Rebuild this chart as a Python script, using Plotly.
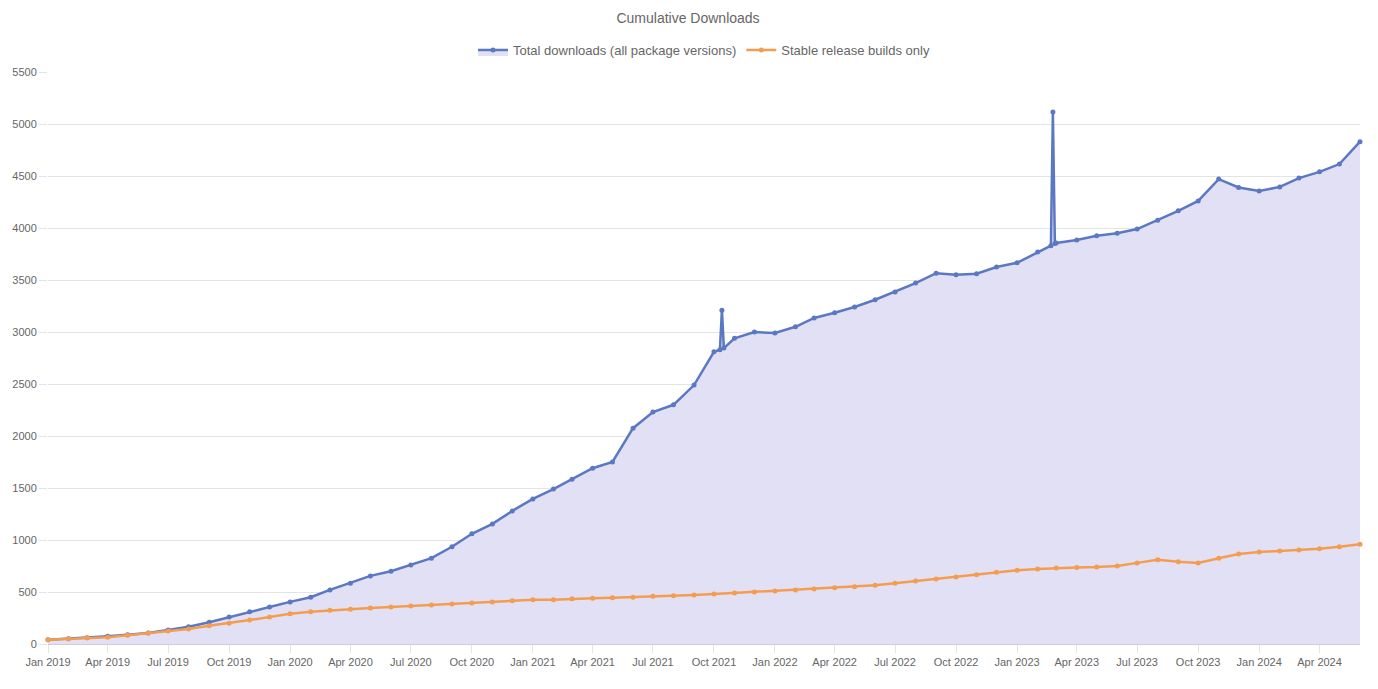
import plotly.graph_objects as go

# ---- data ----
months = [
    "2019-01-01", "2019-02-01", "2019-03-01", "2019-04-01", "2019-05-01", "2019-06-01",
    "2019-07-01", "2019-08-01", "2019-09-01", "2019-10-01", "2019-11-01", "2019-12-01",
    "2020-01-01", "2020-02-01", "2020-03-01", "2020-04-01", "2020-05-01", "2020-06-01",
    "2020-07-01", "2020-08-01", "2020-09-01", "2020-10-01", "2020-11-01", "2020-12-01",
    "2021-01-01", "2021-02-01", "2021-03-01", "2021-04-01", "2021-05-01", "2021-06-01",
    "2021-07-01", "2021-08-01", "2021-09-01", "2021-10-01", "2021-11-01", "2021-12-01",
    "2022-01-01", "2022-02-01", "2022-03-01", "2022-04-01", "2022-05-01", "2022-06-01",
    "2022-07-01", "2022-08-01", "2022-09-01", "2022-10-01", "2022-11-01", "2022-12-01",
    "2023-01-01", "2023-02-01", "2023-03-01", "2023-04-01", "2023-05-01", "2023-06-01",
    "2023-07-01", "2023-08-01", "2023-09-01", "2023-10-01", "2023-11-01", "2023-12-01",
    "2024-01-01", "2024-02-01", "2024-03-01", "2024-04-01", "2024-05-01", "2024-06-01",
]

total_downloads = [
    40, 50, 60, 75, 90, 105, 135, 165, 210, 260, 310, 355,
    405, 450, 520, 585, 655, 700, 760, 825, 935, 1060, 1155, 1280,
    1395, 1490, 1585, 1690, 1750, 2075, 2230, 2300, 2490, 2810, 2940, 3000,
    2990, 3050, 3135, 3185, 3240, 3310, 3385, 3470, 3565, 3550, 3560, 3625,
    3665, 3770, 3855, 3885, 3925, 3950, 3990, 4075, 4165, 4260, 4470, 4390,
    4355, 4395, 4480, 4540, 4615, 4830,
]

# short-lived outliers in the blue series (single days, with the days around them)
spike_dates = ["2021-10-10", "2021-10-13", "2021-10-16",
               "2023-02-21", "2023-02-24", "2023-02-27"]
spike_values = [2830, 3210, 2845,
                3830, 5115, 3850]

stable_downloads = [
    40, 50, 60, 65, 85, 105, 125, 145, 175, 200, 230, 260,
    290, 310, 325, 335, 345, 355, 365, 375, 385, 395, 405, 415,
    425, 425, 435, 440, 445, 450, 460, 465, 470, 480, 490, 500,
    510, 520, 530, 540, 550, 565, 585, 605, 625, 645, 665, 690,
    710, 720, 730, 735, 740, 750, 780, 810, 790, 780, 825, 865,
    885, 895, 905, 915, 935, 960,
]

title_text = "Cumulative Downloads"
series_names = ["Total downloads (all package versions)", "Stable release builds only"]

# merge spikes into the blue series (sorted by date)
blue_pts = sorted(list(zip(months, total_downloads)) + list(zip(spike_dates, spike_values)))
blue_x = [p[0] for p in blue_pts]
blue_y = [p[1] for p in blue_pts]

BLUE = "#5b78c2"
ORANGE = "#f59d4f"
GRID = "#e4e4e4"
TEXT = "#666666"

fig = go.Figure()
fig.add_trace(go.Scatter(
    x=blue_x, y=blue_y, name=series_names[0],
    mode="lines+markers",
    line=dict(color=BLUE, width=2.5),
    marker=dict(color=BLUE, size=5),
    fill="tozeroy", fillcolor="#e2e0f5",
    cliponaxis=False,
))
fig.add_trace(go.Scatter(
    x=months, y=stable_downloads, name=series_names[1],
    mode="lines+markers",
    line=dict(color=ORANGE, width=2.5),
    marker=dict(color=ORANGE, size=5),
    cliponaxis=False,
))

fig.update_layout(
    width=1378, height=689,
    paper_bgcolor="white", plot_bgcolor="white",
    font=dict(family="Liberation Sans, Arial, sans-serif", size=12, color=TEXT),
    title=dict(text=title_text, x=0.4935, xanchor="center",
               yref="container", y=0.985, yanchor="middle",
               font=dict(size=14, color=TEXT)),
    legend=dict(orientation="h", x=0.5, xanchor="center",
                yref="container", y=0.939, yanchor="middle",
                font=dict(size=13, color=TEXT), bgcolor="rgba(0,0,0,0)"),
    margin=dict(l=40, r=26, t=64, b=53, autoexpand=False),
    showlegend=True,
)
fig.update_xaxes(
    type="date", range=["2019-01-01", "2024-06-01"],
    dtick="M3", tickformat="%b %Y",
    showgrid=False, showline=True, linecolor="#d0d0d0", linewidth=1,
    ticks="outside", ticklen=8, tickcolor=GRID,
    tickfont=dict(size=11, color=TEXT),
)
fig.update_yaxes(
    range=[0, 5500], dtick=500,
    showgrid=True, gridcolor=GRID, gridwidth=1,
    zeroline=False, showline=False,
    ticks="outside", ticklen=8, tickcolor=GRID,
    tickfont=dict(size=11, color=TEXT),
)

fig.write_html("out.html")
